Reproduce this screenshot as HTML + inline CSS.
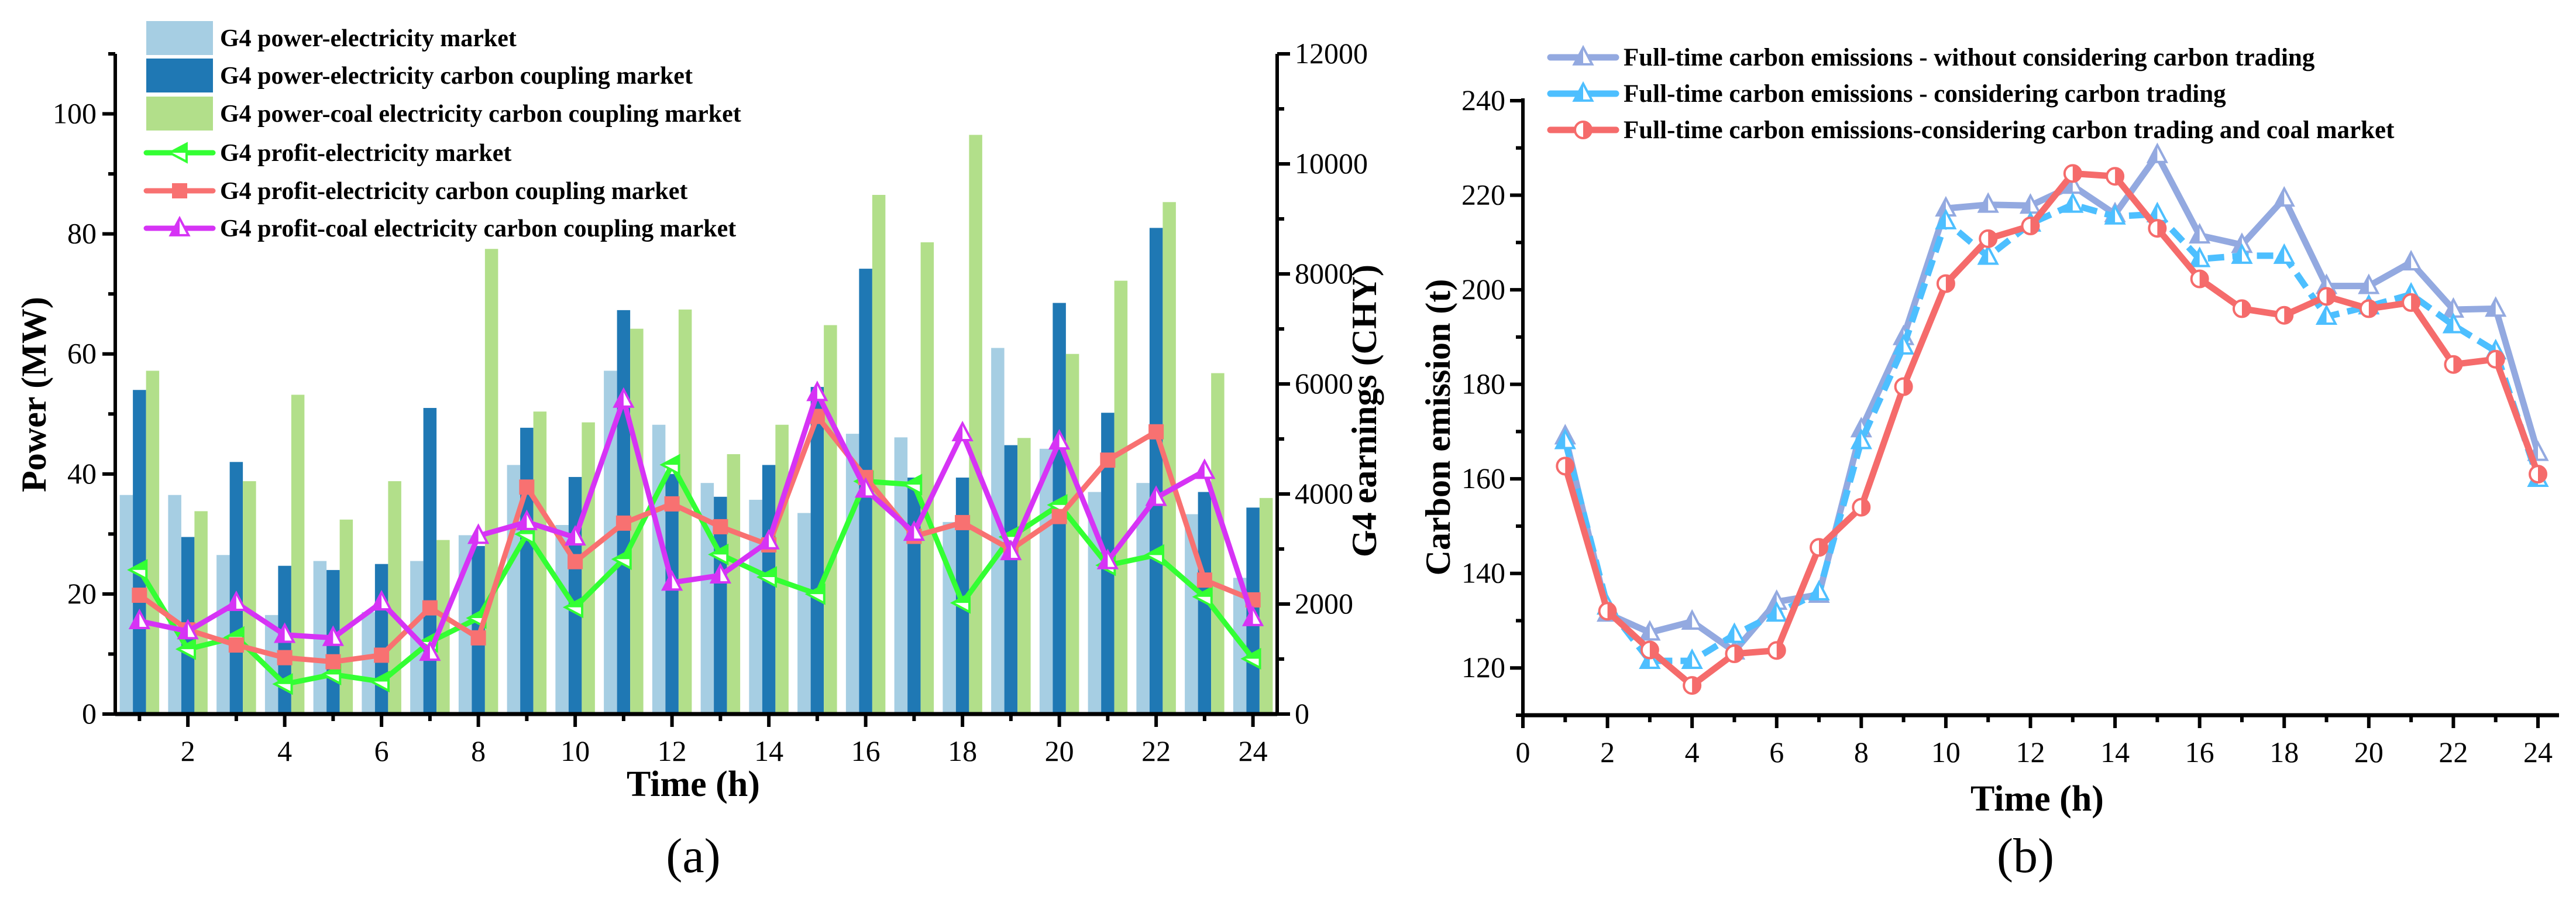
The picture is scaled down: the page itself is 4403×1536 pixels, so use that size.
<!DOCTYPE html>
<html><head><meta charset="utf-8"><style>
html,body{margin:0;padding:0;background:#fff;}
svg{display:block;font-family:"Liberation Serif",serif;}
</style></head><body>
<svg id="fig" width="4403" height="1536" viewBox="0 0 4403 1536" xmlns="http://www.w3.org/2000/svg">
<g id="ca"></g>
<g id="cb"></g>
</svg>
<script>
// ---- Chart (a) data ----
const hours = [1,2,3,4,5,6,7,8,9,10,11,12,13,14,15,16,17,18,19,20,21,22,23,24];
const powerElec = [36.5,36.5,26.5,16.5,25.5,17,25.5,29.8,41.5,31.5,57.2,48.2,38.5,35.7,33.5,46.7,46.1,32,61,44.2,37,38.5,33.3,22.7];
const powerCarbon = [54,29.5,42,24.7,24,25,51,28,47.7,39.5,67.3,40,36.2,41.5,54.5,74.2,39.4,39.4,44.8,68.5,50.2,81,37,34.4];
const powerCoal = [57.2,33.8,38.8,53.2,32.4,38.8,29,77.5,50.4,48.6,64.2,67.4,43.3,48.2,64.8,86.5,78.6,96.5,46,60,72.2,85.3,56.8,36];
const profitElec = [2620,1180,1400,545,720,590,1310,1745,3270,1940,2815,4530,2900,2490,2180,4230,4170,2020,3220,3800,2705,2890,2130,1005];
const profitCarbon = [2160,1530,1255,1025,950,1070,1930,1385,4125,2770,3470,3820,3405,3075,5410,4300,3230,3480,2990,3590,4615,5130,2435,2075];
const profitCoal = [1690,1505,2020,1440,1385,2030,1115,3240,3490,3210,5715,2390,2520,3140,5835,4080,3295,5105,2945,4955,2780,3930,4420,1745];
const leftTicks = [0,20,40,60,80,100];
const rightTicks = [0,2000,4000,6000,8000,10000,12000];
const xTicksA = [2,4,6,8,10,12,14,16,18,20,22,24];
// ---- Chart (b) data ----
const emisNo = [169,131.5,127.5,129.8,123.5,134,135.5,170.5,190,217.2,218,217.8,222,216,228.5,211.5,209.5,219.3,200.8,200.8,205.8,195.8,196,165.5];
const emisCarbon = [168,133,121.5,121.5,127,131.5,136,168,188,214.5,207,214,218,215.5,216,206.5,207.2,207.2,194.3,196.5,199,192.5,187,160];
const emisCoal = [162.7,132,123.8,116.3,123,123.7,145.5,154,179.5,201.3,210.8,213.5,224.6,224,213,202.3,196,194.6,198.6,196,197.3,184.2,185.3,161];
const yTicksB = [120,140,160,180,200,220,240];
const xTicksB = [0,2,4,6,8,10,12,14,16,18,20,22,24];

const NS="http://www.w3.org/2000/svg";
function mk(parent,tag,attrs,txt){const e=document.createElementNS(NS,tag);for(const k in attrs)e.setAttribute(k,attrs[k]);if(txt!==undefined)e.textContent=txt;parent.appendChild(e);return e;}

// ===== Chart A =====
const A=document.getElementById('ca');
const ax0=197, ax1=2183, ay0=1220, ay1=92;
const xA=h=>ax0+(h-0.5)*(ax1-ax0)/24;
const yP=v=>ay0-v*(ay0-ay1)/110;
const yE=v=>ay0-v*(ay0-ay1)/12000;
const bw=22.5;
const barSets=[[powerElec,'#a6cee3',-1],[powerCarbon,'#1f78b4',0],[powerCoal,'#b2df8a',1]];
const names=['bar-power-electricity','bar-power-carbon','bar-power-coal'];
barSets.forEach((s,si)=>{
  s[0].forEach((v,i)=>{
    const r=mk(A,'rect',{x:xA(hours[i])+s[2]*bw-bw/2,y:yP(v),width:bw,height:yP(0)-yP(v),fill:s[1]});
    
    
  });
});
function tri(g,x,y,s,col,dir){ // dir: 'up' or 'left'
  let pts, half;
  if(dir==='up'){pts=`${x},${y-s} ${x-s*0.9},${y+s*0.7} ${x+s*0.9},${y+s*0.7}`;half=`${x},${y-s} ${x-s*0.9},${y+s*0.7} ${x},${y+s*0.7}`;}
  else {pts=`${x-s},${y} ${x+s*0.7},${y-s*0.9} ${x+s*0.7},${y+s*0.9}`;half=`${x-s},${y} ${x+s*0.7},${y-s*0.9} ${x+s*0.7},${y}`;}
  mk(g,'polygon',{points:pts,fill:'#fff',stroke:col,'stroke-width':4});
  mk(g,'polygon',{points:half,fill:col});
}
const lineSets=[[profitElec,'#33ff33','left','line-profit-electricity'],[profitCarbon,'#f87171','sq','line-profit-carbon'],[profitCoal,'#d633f5','up','line-profit-coal']];
lineSets.forEach(s=>{
  const g=mk(A,'g',{});
  
  
  mk(g,'polyline',{points:s[0].map((v,i)=>xA(hours[i])+','+yE(v)).join(' '),fill:'none',stroke:s[1],'stroke-width':9,'stroke-linejoin':'round'});
  s[0].forEach((v,i)=>{
    const x=xA(hours[i]),y=yE(v);
    if(s[2]==='sq') mk(g,'rect',{x:x-13,y:y-13,width:26,height:26,fill:s[1]});
    else tri(g,x,y,17,s[1],s[2]);
  });
});
// axes
mk(A,'line',{x1:ax0,y1:ay0,x2:ax1,y2:ay0,stroke:'#000','stroke-width':7});
mk(A,'line',{x1:ax0,y1:ay0+3,x2:ax0,y2:ay1,stroke:'#000','stroke-width':6});
mk(A,'line',{x1:ax1,y1:ay0+3,x2:ax1,y2:ay1,stroke:'#000','stroke-width':6});
for(let v=0;v<=110;v+=10){const y=yP(v);mk(A,'line',{x1:ax0,y1:y,x2:ax0-(v%20===0?22:12),y2:y,stroke:'#000','stroke-width':6});}
leftTicks.forEach(v=>{const t=mk(A,'text',{x:ax0-32,y:yP(v)+16,'font-size':50,'text-anchor':'end'},String(v));});
for(let v=0;v<=12000;v+=1000){const y=yE(v);mk(A,'line',{x1:ax1,y1:y,x2:ax1+(v%2000===0?22:12),y2:y,stroke:'#000','stroke-width':6});}
rightTicks.forEach(v=>{const t=mk(A,'text',{x:ax1+30,y:yE(v)+16,'font-size':50},String(v));});
hours.forEach(h=>{mk(A,'line',{x1:xA(h),y1:ay0,x2:xA(h),y2:ay0+(h%2===0?22:12),stroke:'#000','stroke-width':6});});
xTicksA.forEach(h=>{const t=mk(A,'text',{x:xA(h),y:ay0+80,'font-size':50,'text-anchor':'middle'},String(h));});
// titles
(function(){
  let t=mk(A,'text',{x:1185,y:1360,'font-size':62,'font-weight':'bold','text-anchor':'middle'},'Time (h)');
  t=mk(A,'text',{x:0,y:0,'font-size':60,'font-weight':'bold','text-anchor':'middle',transform:'translate(78,674) rotate(-90)'},'Power (MW)');
  t=mk(A,'text',{x:0,y:0,'font-size':60,'font-weight':'bold','text-anchor':'middle',transform:'translate(2352,702) rotate(-90)'},'G4 earnings (CHY)');
  t=mk(A,'text',{x:1185,y:1490,'font-size':84,'text-anchor':'middle'},'(a)');
})();
// legend A
const legA=[['bar','#a6cee3','G4 power-electricity market'],['bar','#1f78b4','G4 power-electricity carbon coupling market'],['bar','#b2df8a','G4 power-coal electricity carbon coupling market'],['left','#33ff33','G4 profit-electricity market'],['sq','#f87171','G4 profit-electricity carbon coupling market'],['up','#d633f5','G4 profit-coal electricity carbon coupling market']];
const legY=[65,129,194,261,326,390];
legA.forEach((l,i)=>{
  const g=mk(A,'g',{});
  
  
  const y=legY[i];
  if(l[0]==='bar') mk(g,'rect',{x:250,y:y-29,width:114,height:58,fill:l[1]});
  else{
    mk(g,'line',{x1:250,y1:y,x2:364,y2:y,stroke:l[1],'stroke-width':9,'stroke-linecap':'round'});
    if(l[0]==='sq') mk(g,'rect',{x:294,y:y-13,width:26,height:26,fill:l[1]});
    else tri(g,307,y,17,l[1],l[0]);
  }
  mk(g,'text',{x:376,y:y+14,'font-size':42,'font-weight':'bold'},l[2]);
});

// ===== Chart B =====
const B=document.getElementById('cb');
const bx0=2603, bx1=4374, by0=1222, by1=172;
const xB=h=>bx0+h*(4338-bx0)/24;
const yB=v=>by0-(v-110)*(by0-by1)/130;
mk(B,'line',{x1:bx0,y1:by0,x2:bx1,y2:by0,stroke:'#000','stroke-width':7});
mk(B,'line',{x1:bx0,y1:by0+3,x2:bx0,y2:by1-4,stroke:'#000','stroke-width':6});
for(let v=110;v<=240;v+=10){const y=yB(v);mk(B,'line',{x1:bx0,y1:y,x2:bx0-(v%20===0?22:12),y2:y,stroke:'#000','stroke-width':6});}
yTicksB.forEach(v=>{const t=mk(B,'text',{x:bx0-30,y:yB(v)+16,'font-size':50,'text-anchor':'end'},String(v));});
for(let h=0;h<=24;h++){mk(B,'line',{x1:xB(h),y1:by0,x2:xB(h),y2:by0+(h%2===0?22:12),stroke:'#000','stroke-width':6});}
xTicksB.forEach(h=>{const t=mk(B,'text',{x:xB(h),y:by0+80,'font-size':50,'text-anchor':'middle'},String(h));});
const seriesB=[[emisNo,'#93a9e0','up',null,'line-emission-no-trading'],[emisCarbon,'#4dbfff','up','28,14','line-emission-trading'],[emisCoal,'#f56b6b','circ',null,'line-emission-trading-coal']];
function circ(g,x,y,r,col){mk(g,'circle',{cx:x,cy:y,r:r,fill:'#fff',stroke:col,'stroke-width':4});mk(g,'path',{d:`M${x},${y-r} A${r},${r} 0 0 1 ${x},${y+r} Z`,fill:col});}
seriesB.forEach(s=>{
  const g=mk(B,'g',{});
  
  
  const at={points:s[0].map((v,i)=>xB(hours[i])+','+yB(v)).join(' '),fill:'none',stroke:s[1],'stroke-width':11,'stroke-linejoin':'round'};
  if(s[3]) at['stroke-dasharray']=s[3];
  mk(g,'polyline',at);
  s[0].forEach((v,i)=>{const x=xB(hours[i]),y=yB(v); if(s[2]==='circ') circ(g,x,y,14,s[1]); else tri(g,x,y,17,s[1],'up');});
});
(function(){
  let t=mk(B,'text',{x:3482,y:1385,'font-size':62,'font-weight':'bold','text-anchor':'middle'},'Time (h)');
  t=mk(B,'text',{x:0,y:0,'font-size':60,'font-weight':'bold','text-anchor':'middle',transform:'translate(2478,730) rotate(-90)'},'Carbon emission (t)');
  t=mk(B,'text',{x:3462,y:1490,'font-size':84,'text-anchor':'middle'},'(b)');
})();
const legB=[['#93a9e0','up','Full-time carbon emissions - without considering carbon trading'],['#4dbfff','up','Full-time carbon emissions - considering carbon trading'],['#f56b6b','circ','Full-time carbon emissions-considering carbon trading and coal market']];
const legBY=[98,160,222];
legB.forEach((l,i)=>{
  const g=mk(B,'g',{});
  
  
  const y=legBY[i];
  mk(g,'line',{x1:2650,y1:y,x2:2762,y2:y,stroke:l[0],'stroke-width':11,'stroke-linecap':'round'});
  if(l[1]==='circ') circ(g,2706,y,14,l[0]); else tri(g,2706,y,17,l[0],'up');
  mk(g,'text',{x:2775,y:y+14,'font-size':43,'font-weight':'bold'},l[2]);
});
</script>
</body></html>
